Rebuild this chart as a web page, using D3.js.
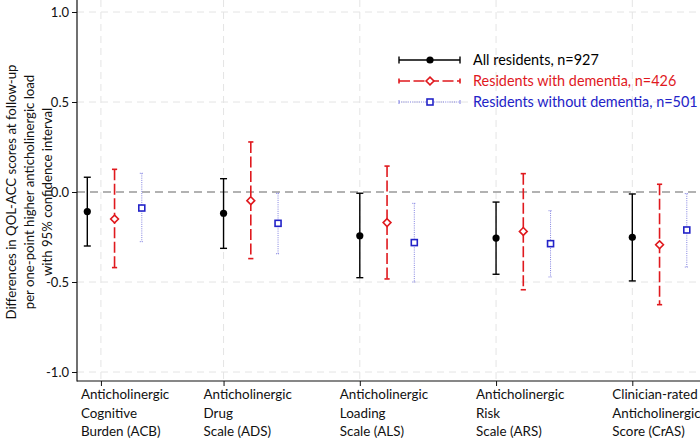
<!DOCTYPE html>
<html>
<head>
<meta charset="utf-8">
<script src="https://cdn.jsdelivr.net/npm/d3@7"></script>
<style>
  body { margin: 0; background: #fff; }
  svg { display: block; font-family: Lato, "Open Sans", sans-serif; }
</style>
</head>
<body>
<script>
// scales compared (x categories), each label on three lines
const scaleLabels = [
  ["Anticholinergic", "Cognitive", "Burden (ACB)"],
  ["Anticholinergic", "Drug", "Scale (ADS)"],
  ["Anticholinergic", "Loading", "Scale (ALS)"],
  ["Anticholinergic", "Risk", "Scale (ARS)"],
  ["Clinician-rated", "Anticholinergic", "Score (CrAS)"]
];
const tickPositions = [0.1, 1, 2, 3, 4];
const yTicks = [-1, -0.5, 0, 0.5, 1];

// estimates and 95% CI
const allEst = [-0.109, -0.118, -0.243, -0.256, -0.252];
const allLo  = [-0.300, -0.313, -0.476, -0.457, -0.494];
const allHi  = [ 0.082,  0.074, -0.007, -0.056, -0.011];

const demEst = [-0.150, -0.048, -0.170, -0.219, -0.293];
const demLo  = [-0.420, -0.370, -0.483, -0.543, -0.626];
const demHi  = [ 0.126,  0.278,  0.144,  0.102,  0.043];

const nodEst = [-0.089, -0.174, -0.281, -0.287, -0.211];
const nodLo  = [-0.276, -0.343, -0.500, -0.472, -0.417];
const nodHi  = [ 0.104, -0.007, -0.063, -0.104, -0.009];

const seriesNames = ["All residents, n=927", "Residents with dementia, n=426", "Residents without dementia, n=501"];

const w = 700, h = 438;
const left = 77, bottom = 381;

const series = [
  {name: seriesNames[0], est: allEst, lo: allLo, hi: allHi, off: 0,
   line: "#000", text: "#000", width: 1.4, dash: null, cap: 3.5, marker: "circle"},
  {name: seriesNames[1], est: demEst, lo: demLo, hi: demHi, off: 0.2,
   line: "#e0191e", text: "#e0191e", width: 1.6, dash: "11,3.5", cap: 2.6, marker: "diamond"},
  {name: seriesNames[2], est: nodEst, lo: nodLo, hi: nodHi, off: 0.4,
   line: "#8080e0", text: "#2323c8", width: 1, dash: "1,1.2", cap: 2, marker: "square"}
];

const x = d3.scaleLinear().domain([0, 4]).range([87.3, 632.3]);
const y = d3.scaleLinear().domain([-1, 1]).range([372, 12]);

const svg = d3.select("body").append("svg")
  .attr("width", w)
  .attr("height", h);

// grid
svg.append("g").selectAll("line")
  .data(yTicks.filter(d => d !== 0))
  .enter().append("line")
  .attr("x1", left).attr("x2", w)
  .attr("y1", d => y(d)).attr("y2", d => y(d))
  .attr("stroke", "#e4e4e4").attr("stroke-dasharray", "7,5");

svg.append("g").selectAll("line")
  .data(tickPositions)
  .enter().append("line")
  .attr("x1", d => x(d)).attr("x2", d => x(d))
  .attr("y1", 0).attr("y2", bottom)
  .attr("stroke", "#e4e4e4").attr("stroke-dasharray", "7,5");

// zero line
svg.append("line")
  .attr("x1", left).attr("x2", w)
  .attr("y1", y(0)).attr("y2", y(0))
  .attr("stroke", "#999").attr("stroke-width", 1.6)
  .attr("stroke-dasharray", "8,5");

// axes
const yAxis = d3.axisLeft(y).tickValues(yTicks).tickSize(5).tickSizeOuter(0)
  .tickFormat(d => d.toFixed(1));
const gy = svg.append("g").attr("transform", "translate(" + left + ",0)").call(yAxis);
gy.select(".domain").remove();
gy.selectAll("text").attr("font-size", 13).attr("fill", "#111").attr("font-family", "Lato");
gy.selectAll("line").attr("stroke", "#111");

const xAxis = d3.axisBottom(x).tickValues(tickPositions).tickSize(5).tickFormat("");
const gx = svg.append("g").attr("transform", "translate(0," + bottom + ")").call(xAxis);
gx.select(".domain").remove();
gx.selectAll("line").attr("stroke", "#111");

svg.append("line").attr("x1", left).attr("x2", left).attr("y1", 0).attr("y2", bottom + 0.5)
  .attr("stroke", "#111").attr("stroke-width", 1.2);
svg.append("line").attr("x1", left).attr("x2", w).attr("y1", bottom).attr("y2", bottom)
  .attr("stroke", "#111").attr("stroke-width", 1.2);

// x labels
scaleLabels.forEach((lines, i) => {
  const t = svg.append("text")
    .attr("x", x(tickPositions[i]) - 20)
    .attr("y", 399)
    .attr("font-size", 13.4)
    .attr("fill", "#111");
  lines.forEach((s, k) => {
    t.append("tspan").attr("x", x(tickPositions[i]) - 20).attr("dy", k === 0 ? 0 : 18.5).text(s);
  });
});

// y title
const titleLines = ["Differences in QOL-ACC scores at follow-up",
  "per one-point higher anticholinergic load",
  "with 95% confidence interval"];
titleLines.forEach((s, k) => {
  svg.append("text")
    .attr("transform", "translate(" + (16 + k * 18) + "," + y(0) + ") rotate(-90)")
    .attr("text-anchor", "middle")
    .attr("font-size", 13.2)
    .attr("fill", "#111")
    .text(s);
});

function drawMarker(g, s, cx, cy) {
  if (s.marker === "circle") {
    g.append("circle").attr("cx", cx).attr("cy", cy).attr("r", 3.6).attr("fill", "#000");
  } else if (s.marker === "diamond") {
    const r = 3.9;
    g.append("path")
      .attr("d", `M${cx},${cy - r}L${cx + r},${cy}L${cx},${cy + r}L${cx - r},${cy}Z`)
      .attr("fill", "#fff").attr("stroke", "#e0191e").attr("stroke-width", 1.6);
  } else {
    g.append("rect").attr("x", cx - 3).attr("y", cy - 3).attr("width", 6).attr("height", 6)
      .attr("fill", "#fff").attr("stroke", "#2323c8").attr("stroke-width", 1.6);
  }
}

// error bars
series.forEach(s => {
  const g = svg.append("g");
  s.est.forEach((e, i) => {
    const cx = x(i + s.off);
    g.append("line")
      .attr("x1", cx).attr("x2", cx)
      .attr("y1", y(s.hi[i])).attr("y2", y(s.lo[i]))
      .attr("stroke", s.line).attr("stroke-width", s.width)
      .attr("stroke-dasharray", s.dash);
    [s.hi[i], s.lo[i]].forEach(v => {
      g.append("line")
        .attr("x1", cx - s.cap).attr("x2", cx + s.cap)
        .attr("y1", y(v)).attr("y2", y(v))
        .attr("stroke", s.line).attr("stroke-width", s.width)
        .attr("stroke-dasharray", s.marker === "square" ? "1,1" : null);
    });
    drawMarker(g, s, cx, y(e));
  });
});

// legend
series.forEach((s, k) => {
  const ly = 60 + k * 21;
  const g = svg.append("g");
  g.append("line").attr("x1", 399).attr("x2", 460).attr("y1", ly).attr("y2", ly)
    .attr("stroke", s.line).attr("stroke-width", s.width)
    .attr("stroke-dasharray", s.dash);
  [399, 460].forEach(cx => {
    g.append("line").attr("x1", cx).attr("x2", cx).attr("y1", ly - s.cap).attr("y2", ly + s.cap)
      .attr("stroke", s.line).attr("stroke-width", s.width);
  });
  drawMarker(g, s, 430, ly);
  g.append("text").attr("x", 473).attr("y", ly + 5)
    .attr("font-size", 14.4).attr("fill", s.text).text(s.name);
});
</script>
</body>
</html>
